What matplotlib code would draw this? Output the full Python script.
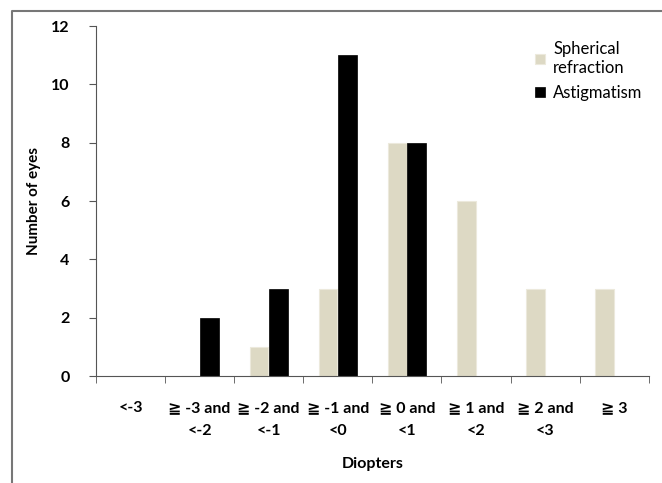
import numpy as np
import matplotlib.pyplot as plt
from matplotlib.lines import Line2D

# data
categories = ["<-3", "≧ -3 and\n<-2", "≧ -2 and\n<-1", "≧ -1 and\n<0",
              "≧ 0 and\n<1", "≧ 1 and\n<2", "≧ 2 and\n<3", "≧ 3"]
spherical = [0, 0, 1, 3, 8, 6, 3, 3]
astigmatism = [0, 2, 3, 11, 8, 0, 0, 0]
yticks = [0, 2, 4, 6, 8, 10, 12]

fams = ['Lato', 'DejaVu Sans']
plt.rcParams['font.family'] = fams

fig = plt.figure(figsize=(6.62, 4.83), dpi=100)
ax = fig.add_axes([0.145, 0.2215, 0.835, 0.7245])

# frame around the figure (only top/left visible in the reference)
fx, fy = 11.5 / 662, 1 - 10.5 / 483
fig.add_artist(Line2D([fx, fx, 1.0], [0, fy, fy], transform=fig.transFigure,
                      color='#777777', linewidth=1.5, zorder=10))

x = np.arange(len(categories))
w = 0.27
ax.bar(x - 0.14, spherical, w, color='#ddd9c4', edgecolor='#ece9dc',
       linewidth=0.8, label='Spherical\nrefraction', zorder=2)
ax.bar(x + 0.14, astigmatism, w, color='black', edgecolor='black',
       linewidth=0.5, label='Astigmatism', zorder=2)

ax.set_xlim(-0.5, len(categories) - 0.5)
ax.set_ylim(0, 12)
ax.set_yticks(yticks)
ax.set_yticklabels([str(v) for v in yticks], fontsize=11.5, fontweight='bold')

ax.set_xticks(x)
ax.set_xticklabels(categories, fontsize=11.5, fontweight='bold', linespacing=1.8)
ax.set_xticks(np.arange(len(categories) + 1) - 0.5, minor=True)
ax.tick_params(axis='x', which='major', length=0, pad=18)
ax.tick_params(axis='x', which='minor', length=5, color='#555555')
ax.tick_params(axis='y', length=5, color='#555555', pad=14)

for s in ['top', 'right']:
    ax.spines[s].set_visible(False)
for s in ['left', 'bottom']:
    ax.spines[s].set_color('#555555')

ax.set_ylabel('Number of eyes', fontsize=11, fontweight='bold', labelpad=7)
ax.set_xlabel('Diopters', fontsize=11.5, fontweight='bold', labelpad=14)

ax.legend(loc='upper left', bbox_to_anchor=(0.767, 1.0), frameon=False,
          fontsize=12, handlelength=0.6, handleheight=0.6,
          handletextpad=0.5, labelspacing=0.55)

fig.savefig('out.png', dpi=100)
